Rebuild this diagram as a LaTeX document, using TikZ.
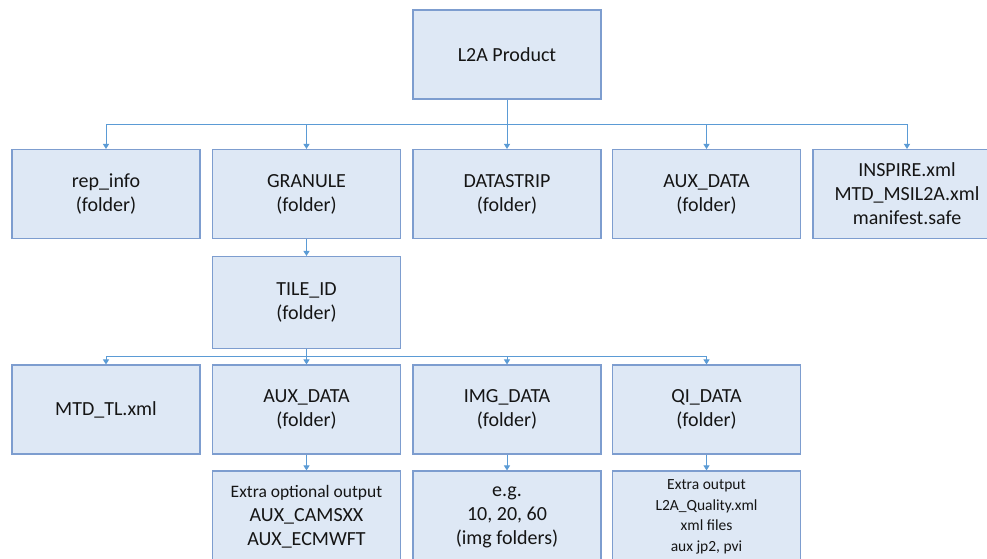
\documentclass[tikz,border=0pt]{standalone}
\usepackage{fontspec}
\setmainfont{Carlito}
\usetikzlibrary{arrows.meta}
\definecolor{boxfill}{HTML}{DEE8F5}
\definecolor{boxline}{HTML}{7D9DCF}
\definecolor{connline}{HTML}{5B9BD5}
\definecolor{txt}{HTML}{151515}
\tikzset{
  box/.style={draw=boxline, fill=boxfill, line width=1.1pt, minimum width=188pt, minimum height=89pt,
    inner sep=0pt, align=center, text=txt, font=\fontsize{20}{24}\selectfont},
  conn/.style={draw=connline, line width=1pt},
  arr/.style={conn, -{Triangle[length=5pt,width=6pt]}},
}
\begin{document}
\begin{tikzpicture}[x=1pt,y=-1pt]
\clip (0,0) rectangle (987,558);
\fill[white] (0,0) rectangle (987,558);
% top
\node[box] (top) at (507,54.5) {L2A Product};
% row 1
\node[box] (rep) at (106,194) {rep\_info\\(folder)};
\node[box] (gran) at (306.5,194) {GRANULE\\(folder)};
\node[box] (ds) at (507,194) {DATASTRIP\\(folder)};
\node[box] (aux) at (706.5,194) {AUX\_DATA\\(folder)};
\node[box] (ins) at (907,194) {INSPIRE.xml\\MTD\_MSIL2A.xml\\manifest.safe};
% tile
\node[box, minimum height=92pt] (tile) at (306.5,302.5) {TILE\_ID\\(folder)};
% row 3
\node[box] (mtd) at (106,409.5) {MTD\_TL.xml};
\node[box] (aux2) at (306.5,409.5) {AUX\_DATA\\(folder)};
\node[box] (img) at (507,409.5) {IMG\_DATA\\(folder)};
\node[box] (qi) at (706.5,409.5) {QI\_DATA\\(folder)};
% row 4
\node[box, minimum height=92pt] (auxx) at (306.5,517) {{\fontsize{17.5}{23}\selectfont Extra optional output}\\AUX\_CAMSXX\\AUX\_ECMWFT};
\node[box, minimum height=92pt] (imgx) at (507,517) {e.g.\\10, 20, 60\\(img folders)};
\node[box, minimum height=92pt, font=\fontsize{15.5}{20.5}\selectfont] (qix) at (706.5,517) {Extra output\\L2A\_Quality.xml\\xml files\\aux jp2, pvi};
% bus 1
\coordinate (bus1) at (507,124);
\draw[conn] (bus1 -| rep.north) -- (bus1 -| ins.north);
\draw[arr] (top.south) -- (ds.north);
\draw[arr] (bus1 -| rep.north) -- (rep.north);
\draw[arr] (bus1 -| gran.north) -- (gran.north);
\draw[arr] (bus1 -| aux.north) -- (aux.north);
\draw[arr] (bus1 -| ins.north) -- (ins.north);
% granule -> tile
\draw[arr] (gran.south) -- (tile.north);
% bus 2
\coordinate (bus2) at (306.5,356);
\draw[conn] (bus2 -| mtd.north) -- (bus2 -| qi.north);
\draw[arr] (tile.south) -- (aux2.north);
\draw[arr] (bus2 -| mtd.north) -- (mtd.north);
\draw[arr] (bus2 -| img.north) -- (img.north);
\draw[arr] (bus2 -| qi.north) -- (qi.north);
% row 3 -> row 4
\draw[arr] (aux2.south) -- (auxx.north);
\draw[arr] (img.south) -- (imgx.north);
\draw[arr] (qi.south) -- (qix.north);
\end{tikzpicture}
\end{document}
